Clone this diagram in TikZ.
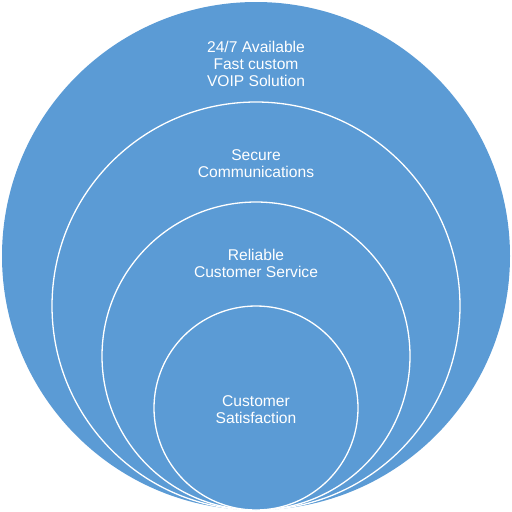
\documentclass[tikz,border=0pt]{standalone}
\usepackage{fontspec}
\setmainfont{Liberation Sans}
\definecolor{ringblue}{HTML}{5B9BD5}
\begin{document}
\begin{tikzpicture}[x=1pt,y=-1pt,
  ring/.style={fill=ringblue,draw=white,line width=1.3pt},
  lbl/.style={text=white,align=center,font=\fontsize{15.6}{17}\selectfont,inner sep=0pt}]
\useasboundingbox (0,0) rectangle (512,512);
\fill[ringblue] (256,256) circle[radius=254];
\draw[ring] (256,306) circle[radius=204];
\draw[ring] (256,356) circle[radius=154];
\draw[ring] (256,408) circle[radius=102];
\node[lbl] (t1) at (256,64) {24/7 Available\\Fast custom\\VOIP Solution};
\node[lbl] (t2) at (256,164) {Secure\\Communications};
\node[lbl] (t3) at (256,263) {Reliable\\Customer Service};
\node[lbl] (t4) at (256,410) {Customer\\Satisfaction};
\end{tikzpicture}
\end{document}
